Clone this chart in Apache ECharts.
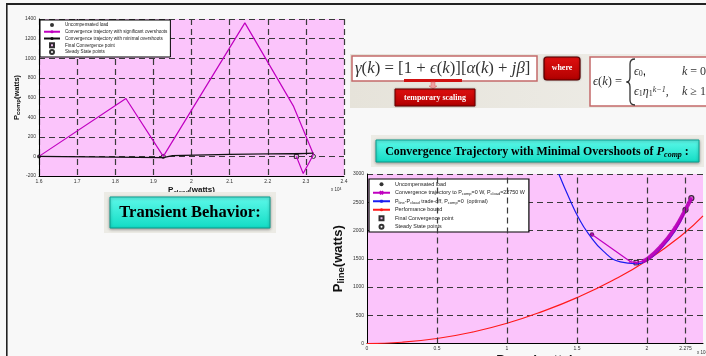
<!DOCTYPE html>
<html>
<head>
<meta charset="utf-8">
<script src="https://cdn.jsdelivr.net/npm/echarts@6/dist/echarts.min.js"></script>
<style>
html, body { margin: 0; padding: 0; background: #f8f8f8; }
#chart { width: 706px; height: 356px; }
</style>
</head>
<body>
<div id="chart"></div>
<script>
// left plot : transient behaviour (P_cload in units of 10^4 W)
var leftXTicks = [1.6, 1.7, 1.8, 1.9, 2, 2.1, 2.2, 2.3, 2.4];
var leftYTicks = [-200, 0, 200, 400, 600, 800, 1000, 1200, 1400];
var leftOvershootX = [1.6, 1.828, 1.926, 2.14, 2.267, 2.32, 2.293, 2.275];
var leftOvershootY = [0, 590, 0, 1360, 515, 20, -175, 0];
var leftMinimalX = [1.6, 1.926, 1.95, 2.1, 2.32, 2.275];
var leftMinimalY = [0, -12, 8, 20, 32, 25];
var leftUncomp = [[1.6, 0]];
var leftFinal = [[2.275, 0]];
var leftSteady = [[1.926, 0], [2.32, 0]];

// right plot : minimal overshoot trajectory
var rightXTicks = [0, 0.5, 1, 1.5, 2, 2.275];
var rightYTicks = [0, 500, 1000, 1500, 2000, 2500, 3000];
var boundX = [0, 0.25, 0.5, 0.75, 1, 1.25, 1.5, 1.75, 2, 2.25, 2.4];
var boundY = [0, 22, 88, 200, 358, 565, 812, 1110, 1470, 1920, 2260];
var tradeX = [1.37, 1.45, 1.51, 1.58, 1.69, 1.81, 1.92, 2.0, 2.1, 2.2, 2.275];
var tradeY = [3000, 2540, 2230, 1950, 1630, 1445, 1413, 1470, 1680, 1990, 2350];
var trajX = [1.607, 1.88, 1.923, 1.97, 2.0, 2.1, 2.2, 2.275, 2.317];
var trajY = [1930, 1450, 1431, 1460, 1490, 1720, 2040, 2370, 2572];
var rightUncomp = [[1.607, 1930]];
var rightFinal = [[1.923, 1431]];
var rightSteady = [[2.275, 2367], [2.317, 2572]];

function pairs(xs, ys) {
    var d = [];
    for (var i = 0; i < xs.length; i++) d.push([xs[i], ys[i]]);
    return d;
}
function plain(v) { return String(Math.round(v * 1000) / 1000); }

var PINK = '#fbc4fb';
var MAG = '#c000c0';
var SANS = 'Liberation Sans';
var SERIF = 'Liberation Serif';
var SQUARE = 'path://M0,0L10,0L10,10L0,10Z';
var gridLine = { show: true, lineStyle: { type: [6, 4], color: '#3a3a3a', width: 1.2 } };
var blackAxis = { show: true, onZero: false, lineStyle: { color: '#000', width: 1 } };
var tickFont = { fontSize: 5, color: '#333', fontFamily: SANS, formatter: plain };

var trajName = 'Convergence trajectory to Pcomp=0 W, Pcload=22750 W';
var tradeName = 'Pline-Pcload trade-off, Pcomp=0  (optimal)';
var legendText = {};
legendText[trajName] = 'Convergence trajectory to P{s|comp}=0 W, P{s|cload}=22750 W';
legendText[tradeName] = 'P{s|line}-P{s|cload} trade-off, P{s|comp}=0  (optimal)';

var tealFill = new echarts.graphic.LinearGradient(0, 0, 0, 1, [
    { offset: 0, color: '#5ef9ea' }, { offset: 1, color: '#12dcc4' }]);
var redFill = new echarts.graphic.LinearGradient(0, 0, 0, 1, [
    { offset: 0, color: '#e01010' }, { offset: 1, color: '#b00000' }]);
var braceStyle = { fill: 'none', stroke: '#333', lineWidth: 1.3 };

var option = {
    animation: false,
    backgroundColor: '#f8f8f8',
    grid: [
        { left: 39, top: 19, width: 305, height: 157, show: true, backgroundColor: PINK, borderWidth: 0,
            containLabel: false, outerBoundsMode: 'none' },
        { left: 367, top: 174, width: 336, height: 169.5, show: true, backgroundColor: PINK, borderWidth: 0,
            containLabel: false, outerBoundsMode: 'none' }
    ],
    xAxis: [
        {
            gridIndex: 0, type: 'value', min: leftXTicks[0], max: leftXTicks[leftXTicks.length - 1], interval: 0.1,
            axisLine: blackAxis, axisTick: { show: false },
            axisLabel: Object.assign({ margin: 3 }, tickFont),
            splitLine: gridLine,
            name: '{b|P}{s|cload}{b|(watts)}', nameLocation: 'middle', nameGap: 9,
            nameTextStyle: { rich: {
                b: { fontSize: 8, fontWeight: 'bold', fontFamily: SANS, color: '#111', lineHeight: 10 },
                s: { fontSize: 6, fontWeight: 'bold', fontFamily: SANS, color: '#111', lineHeight: 5, verticalAlign: 'bottom' } } }
        },
        {
            gridIndex: 1, type: 'value', min: 0, max: 2.4,
            axisLine: blackAxis, axisTick: { show: false, customValues: rightXTicks },
            axisLabel: Object.assign({ margin: 3, customValues: rightXTicks }, tickFont),
            splitLine: { show: false },
            name: '{b|P}{s|cload}{b| (watts)}', nameLocation: 'middle', nameGap: 9,
            nameTextStyle: { rich: {
                b: { fontSize: 13, fontWeight: 'bold', fontFamily: SANS, color: '#111', lineHeight: 16 },
                s: { fontSize: 9, fontWeight: 'bold', fontFamily: SANS, color: '#111', lineHeight: 8, verticalAlign: 'bottom' } } }
        }
    ],
    yAxis: [
        {
            gridIndex: 0, type: 'value', min: leftYTicks[0], max: leftYTicks[leftYTicks.length - 1], interval: 200,
            axisLine: blackAxis, axisTick: { show: false },
            axisLabel: Object.assign({ margin: 3 }, tickFont),
            splitLine: gridLine,
            name: '{b|P}{s|comp}{b|(watts)}', nameLocation: 'middle', nameRotate: 90, nameGap: 16,
            nameTextStyle: { rich: {
                b: { fontSize: 7.5, fontWeight: 'bold', fontFamily: SANS, color: '#111', lineHeight: 9 },
                s: { fontSize: 6, fontWeight: 'bold', fontFamily: SANS, color: '#111', lineHeight: 4.5, verticalAlign: 'bottom' } } }
        },
        {
            gridIndex: 1, type: 'value', min: rightYTicks[0], max: rightYTicks[rightYTicks.length - 1], interval: 500,
            axisLine: blackAxis, axisTick: { show: false },
            axisLabel: Object.assign({ margin: 3 }, tickFont),
            splitLine: gridLine,
            name: '{b|P}{s|line}{b|(watts)}', nameLocation: 'middle', nameRotate: 90, nameGap: 21,
            nameTextStyle: { rich: {
                b: { fontSize: 13, fontWeight: 'bold', fontFamily: SANS, color: '#111', lineHeight: 16 },
                s: { fontSize: 9.5, fontWeight: 'bold', fontFamily: SANS, color: '#111', lineHeight: 8, verticalAlign: 'bottom' } } }
        }
    ],
    legend: [
        {
            left: 40, top: 20, orient: 'vertical', padding: [2, 3, 2, 3], itemGap: 0.75,
            itemWidth: 16, itemHeight: 4, backgroundColor: '#fff', borderColor: '#000', borderWidth: 1,
            textStyle: { fontSize: 4.6, color: '#222', fontFamily: SANS, lineHeight: 6 },
            data: ['Uncompensated load', 'Convergence trajectory with significant overshoots',
                'Convergence trajectory with minimal overshoots', 'Final Convergence point', 'Steady State points']
        },
        {
            left: 369, top: 179, orient: 'vertical', padding: [2, 4, 2, 3], itemGap: 2,
            itemWidth: 17, itemHeight: 4, backgroundColor: '#fff', borderColor: '#000', borderWidth: 1.2,
            textStyle: { fontSize: 5.4, color: '#222', fontFamily: SANS, lineHeight: 6.5,
                rich: { s: { fontSize: 4, fontFamily: SANS, color: '#222', lineHeight: 4, verticalAlign: 'bottom' } } },
            formatter: function (name) { return legendText[name] || name; },
            data: ['Uncompensated load', trajName, tradeName, 'Performance bound',
                'Final Convergence point', 'Steady State points']
        }
    ],
    series: [
        // ---- left ----
        {
            name: 'Convergence trajectory with significant overshoots', type: 'line', xAxisIndex: 0, yAxisIndex: 0,
            data: pairs(leftOvershootX, leftOvershootY), showSymbol: false, symbol: 'none',
            lineStyle: { color: MAG, width: 1.2 }, itemStyle: { color: MAG }
        },
        {
            name: 'Convergence trajectory with minimal overshoots', type: 'line', xAxisIndex: 0, yAxisIndex: 0,
            data: pairs(leftMinimalX, leftMinimalY), showSymbol: false, symbol: 'none',
            lineStyle: { color: '#111', width: 1.2 }, itemStyle: { color: '#111' }
        },
        {
            name: 'Uncompensated load', type: 'scatter', xAxisIndex: 0, yAxisIndex: 0,
            data: leftUncomp, symbol: 'circle', symbolSize: 4, itemStyle: { color: '#000' }
        },
        {
            name: 'Final Convergence point', type: 'scatter', xAxisIndex: 0, yAxisIndex: 0,
            data: leftFinal, symbol: SQUARE, symbolSize: 4, symbolKeepAspect: true,
            itemStyle: { color: '#e8b0e8', borderColor: '#000', borderWidth: 1 }
        },
        {
            name: 'Steady State points', type: 'scatter', xAxisIndex: 0, yAxisIndex: 0,
            data: leftSteady, symbol: 'circle', symbolSize: 4,
            itemStyle: { color: '#fff', borderColor: '#000', borderWidth: 1 }
        },
        // ---- right ----
        {
            name: 'xgrid', type: 'line', xAxisIndex: 1, yAxisIndex: 1, data: [], z: 1,
            markLine: {
                silent: true, symbol: 'none', label: { show: false },
                lineStyle: { type: [6, 4], color: '#3a3a3a', width: 1.2 },
                data: rightXTicks.filter(function (v) { return v > 0; }).map(function (v) { return { xAxis: v }; })
            }
        },
        {
            name: 'Performance bound', type: 'line', xAxisIndex: 1, yAxisIndex: 1,
            data: pairs(boundX, boundY), smooth: true, showSymbol: false, symbol: 'none',
            lineStyle: { color: '#ff1a1a', width: 1.2 }, itemStyle: { color: '#ff1a1a' }
        },
        {
            name: tradeName, type: 'line', xAxisIndex: 1, yAxisIndex: 1,
            data: pairs(tradeX, tradeY), smooth: true, showSymbol: false,
            symbol: 'path://M5,0L5,10M0,5L10,5', symbolSize: 4,
            lineStyle: { color: '#1c1cf0', width: 1.2 },
            itemStyle: { color: '#1c1cf0', borderColor: '#1c1cf0', borderWidth: 1 }
        },
        {
            name: 'convBand', type: 'line', xAxisIndex: 1, yAxisIndex: 1,
            data: pairs(trajX.slice(3), trajY.slice(3)), smooth: true, showSymbol: false, symbol: 'none',
            lineStyle: { color: '#b400b4', width: 4, opacity: 0.9 }
        },
        {
            name: trajName, type: 'line', xAxisIndex: 1, yAxisIndex: 1,
            data: pairs(trajX, trajY), showSymbol: true,
            symbol: 'path://M0,0L10,10M10,0L0,10', symbolSize: 3,
            lineStyle: { color: MAG, width: 1.2 },
            itemStyle: { color: MAG, borderColor: MAG, borderWidth: 1 }
        },
        {
            name: 'Uncompensated load', type: 'scatter', xAxisIndex: 1, yAxisIndex: 1,
            data: rightUncomp, symbol: 'circle', symbolSize: 4.5, itemStyle: { color: '#3a003a' }
        },
        {
            name: 'Final Convergence point', type: 'scatter', xAxisIndex: 1, yAxisIndex: 1,
            data: rightFinal, symbol: SQUARE, symbolSize: 4.5, symbolKeepAspect: true,
            itemStyle: { color: '#e8b0e8', borderColor: '#000', borderWidth: 1 }
        },
        {
            name: 'Steady State points', type: 'scatter', xAxisIndex: 1, yAxisIndex: 1,
            data: rightSteady, symbol: 'circle', symbolSize: 5,
            itemStyle: { color: '#d090d0', borderColor: '#000', borderWidth: 1.2 }
        }
    ],
    graphic: [
        // slide frame
        { type: 'rect', z: 100, shape: { x: 6, y: 3, width: 700, height: 2 }, style: { fill: '#222' } },
        { type: 'rect', z: 100, shape: { x: 6, y: 3, width: 1.6, height: 353 }, style: { fill: '#222' } },
        // x 10^4 exponents
        { type: 'text', z: 50, x: 331, y: 187, style: { text: '{a|x 10}{e|4}', rich: {
            a: { fontSize: 4.5, fill: '#333', fontFamily: SANS }, e: { fontSize: 3.5, fill: '#333', fontFamily: SANS, verticalAlign: 'top' } } } },
        { type: 'text', z: 50, x: 697, y: 350, style: { text: '{a|x 10}{e|4}', rich: {
            a: { fontSize: 4.5, fill: '#333', fontFamily: SANS }, e: { fontSize: 3.5, fill: '#333', fontFamily: SANS, verticalAlign: 'top' } } } },
        // Transient Behavior box
        { type: 'rect', z: 60, shape: { x: 104, y: 192, width: 172, height: 41 }, style: { fill: '#ecebe5' } },
        { type: 'rect', z: 61, shape: { x: 110, y: 197, width: 160, height: 31 },
            style: { fill: tealFill, stroke: '#0b9e8e', lineWidth: 1, shadowBlur: 3, shadowColor: 'rgba(0,0,0,0.35)', shadowOffsetY: 1 } },
        { type: 'text', z: 62, x: 190, y: 213, style: { text: 'Transient Behavior:', fill: '#000',
            font: 'bold 16.5px "Liberation Serif"', align: 'center', verticalAlign: 'middle' } },
        // title banner of right plot
        { type: 'rect', z: 60, shape: { x: 371, y: 135, width: 333, height: 32 }, style: { fill: '#ecebe5' } },
        { type: 'rect', z: 61, shape: { x: 376, y: 140, width: 323, height: 22 },
            style: { fill: tealFill, stroke: '#0b9e8e', lineWidth: 1, shadowBlur: 3, shadowColor: 'rgba(0,0,0,0.35)', shadowOffsetY: 1 } },
        { type: 'text', z: 62, x: 537, y: 151.5, style: {
            text: '{t|Convergence Trajectory with Minimal Overshoots of }{p|P}{s|comp}{t| :}',
            align: 'center', verticalAlign: 'middle',
            rich: {
                t: { fontSize: 11.9, fontWeight: 'bold', fontFamily: SERIF, fill: '#000', lineHeight: 14 },
                p: { fontSize: 12.5, fontWeight: 'bold', fontStyle: 'italic', fontFamily: SERIF, fill: '#000', lineHeight: 14 },
                s: { fontSize: 8, fontWeight: 'bold', fontStyle: 'italic', fontFamily: SERIF, fill: '#000', lineHeight: 8, verticalAlign: 'bottom' }
            } } },
        // formula banner
        { type: 'rect', z: 40, shape: { x: 350, y: 54, width: 356, height: 54 },
            style: { fill: new echarts.graphic.LinearGradient(0, 0, 1, 0, [
                { offset: 0, color: '#e6e3da' }, { offset: 1, color: '#efeee9' }]) } },
        { type: 'rect', z: 41, shape: { x: 352, y: 56, width: 185, height: 25 },
            style: { fill: '#fff', stroke: '#c46a6a', lineWidth: 1.5 } },
        { type: 'text', z: 42, x: 355, y: 68.5, style: {
            text: '{i|γ}({i|k}) = [1 + {i|ϵ}({i|k})][{i|α}({i|k}) + {i|jβ}]',
            verticalAlign: 'middle', fontSize: 16.8, fontFamily: SERIF, fill: '#333',
            rich: { i: { fontSize: 16.8, fontStyle: 'italic', fontFamily: SERIF, fill: '#333' } } } },
        { type: 'rect', z: 42, shape: { x: 404, y: 79, width: 58, height: 3 }, style: { fill: '#d01010' } },
        { type: 'polygon', z: 42, shape: { points: [[431, 82], [435, 82], [435, 86], [437, 86], [433, 89], [429, 86], [431, 86]] },
            style: { fill: '#f0a0a0', stroke: '#d06060', lineWidth: 0.5 } },
        { type: 'rect', z: 43, shape: { x: 395, y: 89, width: 80, height: 17 },
            style: { fill: redFill, stroke: '#6a0000', lineWidth: 1, shadowBlur: 2, shadowColor: 'rgba(0,0,0,0.3)' } },
        { type: 'text', z: 44, x: 435, y: 97.5, style: { text: 'temporary scaling', fill: '#fff',
            font: 'bold 8px "Liberation Serif"', align: 'center', verticalAlign: 'middle' } },
        { type: 'rect', z: 43, shape: { x: 544, y: 57, width: 36, height: 23, r: 3 },
            style: { fill: redFill, stroke: '#5a0000', lineWidth: 1.2, shadowBlur: 2, shadowColor: 'rgba(0,0,0,0.3)' } },
        { type: 'text', z: 44, x: 562, y: 68, style: { text: 'where', fill: '#fff',
            font: 'bold 8px "Liberation Serif"', align: 'center', verticalAlign: 'middle' } },
        { type: 'rect', z: 41, shape: { x: 590, y: 57, width: 120, height: 49 },
            style: { fill: '#fff', stroke: '#c46a6a', lineWidth: 1.5 } },
        { type: 'text', z: 42, x: 593, y: 82, style: {
            text: '{i|ϵ}({i|k}) =', verticalAlign: 'middle', fontSize: 12.5, fontFamily: SERIF, fill: '#333',
            rich: { i: { fontSize: 12.5, fontStyle: 'italic', fontFamily: SERIF, fill: '#333' } } } },
        // curly brace of the case definition
        { type: 'bezierCurve', z: 42, shape: { x1: 635, y1: 59, x2: 630, y2: 64, cpx1: 630, cpy1: 59 }, style: braceStyle },
        { type: 'line', z: 42, shape: { x1: 630, y1: 64, x2: 630, y2: 77 }, style: braceStyle },
        { type: 'bezierCurve', z: 42, shape: { x1: 630, y1: 77, x2: 626.5, y2: 82, cpx1: 630, cpy1: 82 }, style: braceStyle },
        { type: 'bezierCurve', z: 42, shape: { x1: 626.5, y1: 82, x2: 630, y2: 87, cpx1: 630, cpy1: 82 }, style: braceStyle },
        { type: 'line', z: 42, shape: { x1: 630, y1: 87, x2: 630, y2: 100 }, style: braceStyle },
        { type: 'bezierCurve', z: 42, shape: { x1: 630, y1: 100, x2: 635, y2: 105, cpx1: 630, cpy1: 105 }, style: braceStyle },
        { type: 'text', z: 42, x: 634, y: 72, style: {
            text: '{i|ϵ}{s|0},', verticalAlign: 'middle',
            rich: { i: { fontSize: 12, fontStyle: 'italic', fontFamily: SERIF, fill: '#333', lineHeight: 12 },
                s: { fontSize: 8, fontFamily: SERIF, fill: '#333', lineHeight: 6, verticalAlign: 'bottom' } } } },
        { type: 'text', z: 42, x: 634, y: 92, style: {
            text: '{i|ϵ}{s|1}{i|η}{s|1}{u|k−1}{c|,}', verticalAlign: 'middle',
            rich: { i: { fontSize: 12, fontStyle: 'italic', fontFamily: SERIF, fill: '#333', lineHeight: 12 },
                c: { fontSize: 12, fontFamily: SERIF, fill: '#333', lineHeight: 12 },
                s: { fontSize: 8, fontFamily: SERIF, fill: '#333', lineHeight: 6, verticalAlign: 'bottom' },
                u: { fontSize: 8, fontStyle: 'italic', fontFamily: SERIF, fill: '#333', lineHeight: 6, verticalAlign: 'top' } } } },
        { type: 'text', z: 42, x: 682, y: 72, style: {
            text: '{i|k} = 0', verticalAlign: 'middle', fontSize: 12, fontFamily: SERIF, fill: '#333',
            rich: { i: { fontSize: 12, fontStyle: 'italic', fontFamily: SERIF, fill: '#333' } } } },
        { type: 'text', z: 42, x: 682, y: 92, style: {
            text: '{i|k} ≥ 1', verticalAlign: 'middle', fontSize: 12, fontFamily: SERIF, fill: '#333',
            rich: { i: { fontSize: 12, fontStyle: 'italic', fontFamily: SERIF, fill: '#333' } } } }
    ]
};

var chart = echarts.init(document.getElementById('chart'));
chart.setOption(option);
</script>
</body>
</html>
